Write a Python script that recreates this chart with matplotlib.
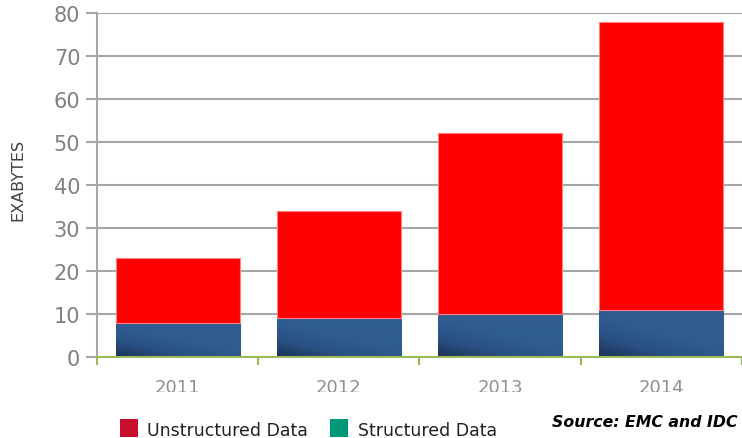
import numpy as np
import matplotlib
matplotlib.use("Agg")
import matplotlib.pyplot as plt
from matplotlib.colors import LinearSegmentedColormap
from matplotlib.patches import Rectangle

years = ["2011", "2012", "2013", "2014"]
structured = [8, 9, 10, 11]
unstructured = [15, 25, 42, 67]

fig = plt.figure(figsize=(7.42, 4.39), dpi=100)
ax = fig.add_axes([0.1307, 0.1845, 0.8693, 0.7835])

x = np.arange(len(years))
w = 0.77

# structured bars: drawn as gradient images over the bar outline
blues = LinearSegmentedColormap.from_list("bl", ["#1c3356", "#2a5185", "#2f5d92"])
bars = ax.bar(x, structured, w, color="#2b5284", edgecolor="#c9d3e0", linewidth=0.8, zorder=2)
gx, gy = np.meshgrid(np.linspace(0, 1, 60), np.linspace(0, 1, 60))
grad = np.clip(0.1 + 0.7 * gx + 1.0 * gy, 0, 1)
for b in bars:
    bx, by = b.get_x(), b.get_y()
    im = ax.imshow(grad, cmap=blues, origin="lower", aspect="auto",
                   extent=[bx, bx + b.get_width(), by, by + b.get_height()], zorder=3)
    im.set_clip_path(b)

ax.bar(x, unstructured, w, bottom=structured, color="#ff0000",
       edgecolor="#ff8080", linewidth=0.8, zorder=3)

ax.set_xlim(-0.5, 3.5)
ax.set_ylim(0, 80)
ax.set_yticks(range(0, 81, 10))
ax.yaxis.grid(True, color="#a6a6a6", linewidth=1.5, zorder=0)
ax.set_axisbelow(True)

for s in ["top", "right"]:
    ax.spines[s].set_visible(False)
ax.spines["left"].set_color("#a6a6a6")
ax.spines["left"].set_linewidth(1.5)
ax.spines["bottom"].set_color("#9bbb59")
ax.spines["bottom"].set_linewidth(1.5)
ax.spines["bottom"].set_zorder(4)

ax.tick_params(axis="y", colors="#808080", labelsize=15, length=8, width=1.5,
               color="#a6a6a6", pad=4)
ax.set_xticks(x)
ax.set_xticklabels(years)
ax.set_xticks(np.arange(-0.5, 4.0, 1.0), minor=True)
ax.tick_params(axis="x", which="major", length=0, labelsize=13, colors="#909090", pad=15)
ax.tick_params(axis="x", which="minor", length=6, width=1.5, color="#9bbb59")

fig.text(0.024, 0.59, "EXABYTES", rotation=90, ha="center", va="center",
         fontsize=11.5, color="#404040")

# year labels are partly hidden at the bottom in the original
fig.patches.append(Rectangle((0, 0), 1, 1 - 393 / 439, transform=fig.transFigure,
                             facecolor="white", edgecolor="none", zorder=5))

# legend
fig.patches.append(Rectangle((120 / 742, 1 - 438 / 439), 18 / 742, 18 / 439,
                             transform=fig.transFigure, facecolor="#c8102e", zorder=6))
fig.text(147 / 742, 1 - 431 / 439, "Unstructured Data", fontsize=12.5, color="#222222",
         va="center", zorder=6)
fig.patches.append(Rectangle((330 / 742, 1 - 438 / 439), 18 / 742, 18 / 439,
                             transform=fig.transFigure, facecolor="#009977", zorder=6))
fig.text(358 / 742, 1 - 431 / 439, "Structured Data", fontsize=12.5,
         color="#222222", va="center", zorder=6)
fig.text(738 / 742, 1 - 423 / 439, "Source: EMC and IDC", fontsize=11.3, fontweight="bold",
         fontstyle="italic", color="black", ha="right", va="center", zorder=6)

fig.savefig("out.png", dpi=100)
